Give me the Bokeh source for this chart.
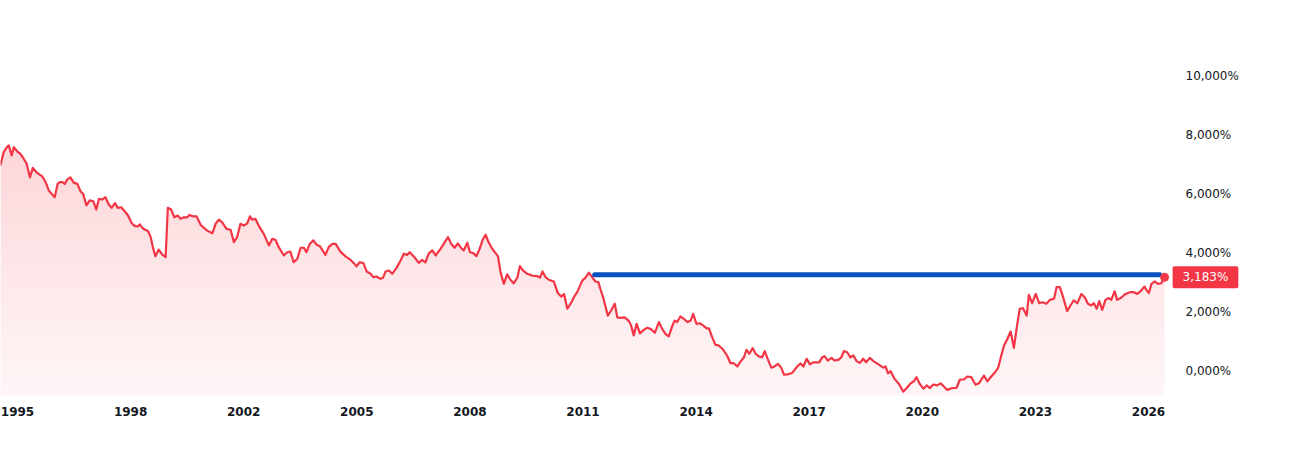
import numpy as np
from bokeh.plotting import figure
from bokeh.models import Range1d, FixedTicker, CustomJSTickFormatter, Label
from bokeh.embed import file_html
from bokeh.resources import INLINE

# ---- data ----
years = [
    1994.53, 1994.62, 1994.72, 1994.76, 1994.84, 1994.90, 1994.99, 1995.08, 1995.17, 1995.25,
    1995.34, 1995.42, 1995.52, 1995.68, 1995.77, 1995.86, 1995.95, 1996.02, 1996.10, 1996.16,
    1996.23, 1996.30, 1996.36, 1996.45, 1996.54, 1996.64, 1996.73, 1996.80, 1996.89, 1996.98,
    1997.08, 1997.16, 1997.23, 1997.32, 1997.41, 1997.50, 1997.58, 1997.67, 1997.75, 1997.84,
    1997.96, 1998.03, 1998.13, 1998.22, 1998.30, 1998.35, 1998.45, 1998.58, 1998.65, 1998.72,
    1998.78, 1998.87, 1998.97, 1999.06, 1999.12, 1999.21, 1999.30, 1999.39, 1999.47, 1999.56,
    1999.65, 1999.72, 1999.82, 1999.91, 2000.02,
    2000.11, 2000.20, 2000.34, 2000.43, 2000.52, 2000.61, 2000.73, 2000.84, 2000.93, 2001.02,
    2001.11, 2001.20, 2001.30, 2001.37, 2001.43, 2001.52, 2001.61, 2001.75, 2001.89, 2001.98,
    2002.07, 2002.16, 2002.30, 2002.39, 2002.48, 2002.57, 2002.67, 2002.76, 2002.85, 2002.92,
    2003.01, 2003.11, 2003.20, 2003.29, 2003.44, 2003.53, 2003.63, 2003.72, 2003.85, 2003.99,
    2004.13, 2004.22, 2004.29, 2004.38, 2004.48, 2004.57, 2004.68, 2004.75, 2004.84, 2004.95,
    2005.02, 2005.09, 2005.18, 2005.27, 2005.39, 2005.50,
    2005.59, 2005.68, 2005.75, 2005.88, 2006.00, 2006.09, 2006.18, 2006.27, 2006.37, 2006.46,
    2006.60, 2006.69, 2006.80, 2006.89, 2006.98, 2007.07, 2007.16, 2007.23, 2007.33, 2007.40,
    2007.49, 2007.58, 2007.67, 2007.75, 2007.83, 2007.90, 2008.01, 2008.17, 2008.24, 2008.33,
    2008.42, 2008.51, 2008.60, 2008.70, 2008.77, 2008.86, 2008.97, 2009.11, 2009.25, 2009.32,
    2009.39, 2009.47, 2009.56, 2009.70, 2009.81, 2009.90, 2009.98, 2010.07, 2010.16, 2010.25,
    2010.34, 2010.48, 2010.57, 2010.66, 2010.75, 2010.84, 2010.92, 2010.98,
    2011.05, 2011.18, 2011.27, 2011.37, 2011.44, 2011.53, 2011.64, 2011.76, 2011.82, 2011.89,
    2011.97, 2012.06, 2012.15, 2012.26, 2012.35, 2012.47, 2012.58, 2012.67, 2012.76, 2012.85,
    2012.95, 2013.01, 2013.08, 2013.17, 2013.26, 2013.37, 2013.45, 2013.52, 2013.61, 2013.70,
    2013.80, 2013.89, 2013.95, 2014.04, 2014.13, 2014.22, 2014.32, 2014.45, 2014.54, 2014.63,
    2014.73, 2014.80, 2014.91, 2014.98, 2015.06, 2015.15, 2015.23, 2015.32, 2015.41, 2015.48,
    2015.57, 2015.66, 2015.75, 2015.84, 2015.93, 2016.01, 2016.10, 2016.24, 2016.37, 2016.46,
    2016.54, 2016.63, 2016.72, 2016.81, 2016.97, 2017.06, 2017.12, 2017.21, 2017.31, 2017.40,
    2017.51, 2017.58, 2017.65, 2017.74, 2017.83, 2017.91, 2018.00, 2018.09, 2018.18, 2018.26,
    2018.36, 2018.47, 2018.61, 2018.73, 2018.79, 2018.86, 2018.93, 2019.04, 2019.16, 2019.28,
    2019.39, 2019.48, 2019.57, 2019.64, 2019.73, 2019.83, 2019.92, 2020.01, 2020.10, 2020.21,
    2020.30, 2020.39, 2020.48, 2020.62, 2020.74, 2020.83, 2020.94, 2021.03, 2021.14, 2021.26,
    2021.35, 2021.49, 2021.58, 2021.69, 2021.81, 2021.88, 2021.95,
    2022.04, 2022.13, 2022.22, 2022.31, 2022.39, 2022.47, 2022.56, 2022.66, 2022.72, 2022.81,
    2022.91, 2023.00, 2023.09, 2023.20, 2023.30, 2023.41, 2023.48, 2023.57, 2023.66, 2023.77,
    2023.86, 2023.95, 2024.05, 2024.16, 2024.25, 2024.34, 2024.43, 2024.50, 2024.58, 2024.65,
    2024.73, 2024.82, 2024.91, 2024.98, 2025.07, 2025.14, 2025.25, 2025.37, 2025.49, 2025.60,
    2025.69, 2025.78, 2025.89, 2025.95, 2026.01, 2026.08, 2026.17, 2026.26, 2026.35, 2026.44,
]

yields = [
    6.96, 7.41, 7.60, 7.64, 7.30, 7.58, 7.44, 7.35, 7.19, 7.02,
    6.56, 6.88, 6.73, 6.59, 6.40, 6.11, 5.98, 5.89, 6.34, 6.40,
    6.40, 6.34, 6.48, 6.56, 6.38, 6.34, 6.08, 6.00, 5.61, 5.78,
    5.75, 5.47, 5.83, 5.81, 5.89, 5.64, 5.53, 5.69, 5.53, 5.55,
    5.38, 5.27, 5.01, 4.91, 4.90, 4.97, 4.82, 4.74, 4.54, 4.15,
    3.89, 4.12, 3.95, 3.86, 5.53, 5.47, 5.21, 5.27, 5.16, 5.21,
    5.21, 5.29, 5.24, 5.24, 4.96,
    4.85, 4.76, 4.67, 4.99, 5.13, 5.04, 4.82, 4.79, 4.37, 4.54,
    4.99, 4.93, 5.01, 5.24, 5.13, 5.16, 4.93, 4.65, 4.26, 4.48,
    4.45, 4.20, 3.92, 4.03, 4.05, 3.69, 3.81, 4.18, 4.18, 4.03,
    4.31, 4.43, 4.28, 4.23, 3.94, 4.20, 4.31, 4.31, 4.05, 3.89,
    3.77, 3.66, 3.55, 3.69, 3.66, 3.38, 3.30, 3.19, 3.21, 3.13,
    3.17, 3.38, 3.41, 3.30, 3.50, 3.75,
    3.98, 3.94, 4.03, 3.86, 3.67, 3.77, 3.69, 3.98, 4.09, 3.92,
    4.15, 4.33, 4.54, 4.31, 4.18, 4.33, 4.17, 4.09, 4.35, 4.03,
    4.00, 3.90, 4.15, 4.45, 4.62, 4.40, 4.15, 3.89, 3.35, 2.96,
    3.28, 3.10, 2.98, 3.17, 3.56, 3.41, 3.30, 3.24, 3.22, 3.17,
    3.38, 3.19, 3.10, 3.04, 2.65, 2.53, 2.62, 2.12, 2.29, 2.51,
    2.68, 3.07, 3.17, 3.34, 3.19, 3.04, 3.02, 2.77,
    2.51, 1.89, 2.06, 2.29, 1.83, 1.81, 1.83, 1.70, 1.55, 1.22,
    1.61, 1.29, 1.39, 1.48, 1.44, 1.31, 1.67, 1.44, 1.27, 1.19,
    1.55, 1.72, 1.67, 1.86, 1.78, 1.67, 1.72, 1.95, 1.61, 1.63,
    1.55, 1.46, 1.46, 1.16, 0.90, 0.88, 0.77, 0.54, 0.28, 0.28,
    0.17, 0.31, 0.48, 0.73, 0.60, 0.79, 0.60, 0.51, 0.48, 0.69,
    0.40, 0.13, 0.17, 0.26, 0.13, -0.11, -0.10, -0.04, 0.17, 0.27,
    0.17, 0.43, 0.24, 0.31, 0.31, 0.48, 0.52, 0.37, 0.46, 0.37,
    0.40, 0.48, 0.69, 0.65, 0.48, 0.54, 0.35, 0.29, 0.43, 0.31,
    0.46, 0.34, 0.23, 0.13, 0.17, -0.06, 0.01, -0.25, -0.42, -0.68,
    -0.53, -0.40, -0.33, -0.19, -0.42, -0.58, -0.47, -0.56, -0.44, -0.47,
    -0.40, -0.51, -0.62, -0.56, -0.55, -0.27, -0.27, -0.17, -0.19, -0.45,
    -0.40, -0.14, -0.33, -0.17, 0.00, 0.13, 0.47,
    0.88, 1.10, 1.35, 0.80, 1.50, 2.12, 2.14, 1.89, 2.59, 2.31,
    2.62, 2.31, 2.34, 2.29, 2.42, 2.46, 2.85, 2.85, 2.51, 2.04,
    2.23, 2.40, 2.31, 2.62, 2.51, 2.29, 2.23, 2.31, 2.12, 2.38,
    2.08, 2.42, 2.48, 2.42, 2.71, 2.42, 2.49, 2.62, 2.68, 2.68,
    2.62, 2.71, 2.87, 2.74, 2.65, 2.96, 3.04, 2.96, 2.98, 3.183,
]

x_tick_values = [1995.0, 1998.1, 2001.2, 2004.3, 2007.4, 2010.5, 2013.6, 2016.7, 2019.8, 2022.9, 2026.0]
x_tick_labels = ["1995", "1998", "2002", "2005", "2008", "2011", "2014", "2017", "2020", "2023", "2026"]
y_tick_values = [0, 2, 4, 6, 8, 10]

level_value = 3.27      # horizontal blue level line
level_start = 2010.82
level_end = 2026.31
last_label = "3,183%"

RED = "#F23645"
BLUE = "#0A50BF"
TEXT = "#131722"

# ---- figure ----
p = figure(width=1297, height=464, output_backend="svg", toolbar_location=None,
           x_range=Range1d(1994.534, 2028.521), y_range=Range1d(-0.811, 12.534),
           y_axis_location="right",
           min_border_left=0, min_border_right=57, min_border_top=0, min_border_bottom=69)
p.outline_line_color = None
p.grid.visible = False
p.background_fill_color = "white"
p.border_fill_color = "white"

# ---- gradient area under the line (horizontal bands) ----
x = np.array(years, dtype=float)
y = np.array(yields, dtype=float)
y_floor = -0.811
edges = np.linspace(y_floor, 8.0, 46)


def with_crossings(xa, ya, levels):
    xs, ys = [xa[0]], [ya[0]]
    for i in range(len(xa) - 1):
        x0, y0, x1, y1 = xa[i], ya[i], xa[i + 1], ya[i + 1]
        if y1 != y0:
            lo, hi = min(y0, y1), max(y0, y1)
            ts = sorted((l - y0) / (y1 - y0) for l in levels if lo < l < hi)
            for t in ts:
                xs.append(x0 + t * (x1 - x0))
                ys.append(y0 + t * (y1 - y0))
        xs.append(x1)
        ys.append(y1)
    return np.array(xs), np.array(ys)


xd, yd = with_crossings(x, y, edges)
for b0, b1 in zip(edges[:-1], edges[1:]):
    mid = 0.5 * (b0 + b1)
    alpha = 0.045 + 0.0187 * (mid - y_floor)
    top = np.clip(yd, b0, b1)
    p.varea(x=xd, y1=np.full_like(top, b0), y2=top, fill_color=RED, fill_alpha=alpha)

# ---- main line ----
p.line(years, yields, line_color=RED, line_width=2.2, line_join="round")

# ---- level line ----
p.segment(x0=[level_start], y0=[level_value], x1=[level_end], y1=[level_value],
          line_color=BLUE, line_width=5, line_cap="round")

# ---- last point ----
p.scatter([years[-1]], [yields[-1]], size=8, fill_color=RED, line_color=RED)

p.add_layout(Label(x=years[-1], y=yields[-1], x_offset=8, text=last_label,
                   text_font="DejaVu Sans", text_font_size="12px", text_color="white",
                   text_align="left", text_baseline="middle",
                   background_fill_color=RED, background_fill_alpha=1.0,
                   padding=(10, 4), border_radius=2, level="overlay"))

# ---- axes ----
xa = p.xaxis[0]
xa.ticker = FixedTicker(ticks=x_tick_values)
xa.formatter = CustomJSTickFormatter(args=dict(vals=x_tick_values, labels=x_tick_labels), code="""
    for (let i = 0; i < vals.length; i++) { if (Math.abs(vals[i] - tick) < 1e-6) return labels[i]; }
    return "";
""")
xa.axis_line_color = None
xa.major_tick_line_color = None
xa.minor_tick_line_color = None
xa.major_tick_out = 0
xa.major_tick_in = 0
xa.major_label_standoff = 11
xa.major_label_text_font = "DejaVu Sans"
xa.major_label_text_font_size = "12px"
xa.major_label_text_font_style = "bold"
xa.major_label_text_color = TEXT

ya = p.yaxis[0]
ya.ticker = FixedTicker(ticks=y_tick_values)
ya.formatter = CustomJSTickFormatter(code="return tick.toFixed(3).replace('.', ',') + '%';")
ya.axis_line_color = None
ya.major_tick_line_color = None
ya.minor_tick_line_color = None
ya.major_tick_out = 0
ya.major_tick_in = 0
ya.major_label_standoff = -55
ya.major_label_text_font = "DejaVu Sans"
ya.major_label_text_font_size = "12px"
ya.major_label_text_color = TEXT

open("out.html", "w").write(file_html(p, INLINE))
